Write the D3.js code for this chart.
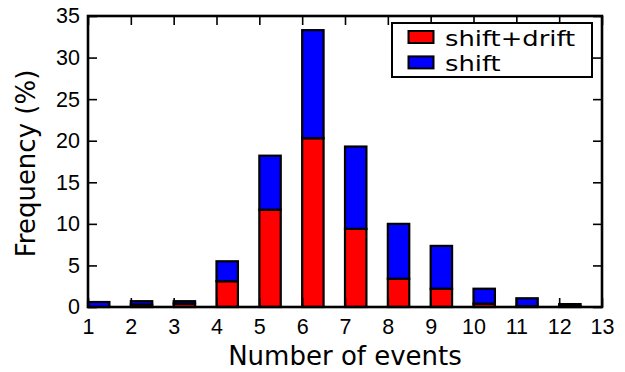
<!DOCTYPE html>
<html>
<head>
<meta charset="utf-8">
<script src="https://cdn.jsdelivr.net/npm/d3@7"></script>
<style>
    body { margin: 0; background: #fff; }
    svg { display: block; font-family: "DejaVu Sans", sans-serif; }
</style>
</head>
<body>
<svg id="chart" width="625" height="372"></svg>
<script>
// Number of events on the x axis
const events = [1, 2, 3, 4, 5, 6, 7, 8, 9, 10, 11, 12];
// Frequency (%) of each series, blue is stacked on top of red
const shiftDrift = [0, 0.3, 0.4, 3.1, 11.7, 20.3, 9.4, 3.4, 2.2, 0.4, 0.1, 0.1];
const shiftOnly = [0.6, 0.4, 0.3, 2.4, 6.5, 13.0, 9.9, 6.6, 5.15, 1.8, 0.95, 0.25];
const xTicks = d3.range(1, 14);
const yTicks = [0, 5, 10, 15, 20, 25, 30, 35];
const seriesNames = ["shift+drift", "shift"];
const seriesColors = ["#ff0000", "#0000ff"];

const margin = {top: 16, right: 23, bottom: 65, left: 88};
const width = 625, height = 372;

const svg = d3.select("#chart");

const x = d3.scaleLinear().domain([1, 13]).range([margin.left, width - margin.right]);
const y = d3.scaleLinear().domain([0, 35]).range([height - margin.bottom, margin.top]);

const rows = events.map((e, i) => ({event: e, red: shiftDrift[i], blue: shiftOnly[i]}));
const stacked = d3.stack().keys(["red", "blue"])(rows);

// Bars
svg.append("g")
    .selectAll("g")
    .data(stacked)
    .join("g")
    .attr("fill", (d, i) => seriesColors[i])
    .selectAll("rect")
    .data(d => d)
    .join("rect")
    .attr("x", d => x(d.data.event))
    .attr("width", d => x(d.data.event + 0.5) - x(d.data.event))
    .attr("y", d => y(d[1]))
    .attr("height", d => y(d[0]) - y(d[1]))
    .attr("stroke", "#000")
    .attr("stroke-width", 2.2);

// Axes, ticks pointing inward on all four sides
const tickLen = 9;
const bottomAxis = d3.axisBottom(x).tickValues(xTicks).tickSize(-tickLen).tickPadding(12);
const topAxis = d3.axisTop(x).tickValues(xTicks).tickSize(-tickLen).tickFormat("");
const leftAxis = d3.axisLeft(y).tickValues(yTicks).tickSize(-tickLen).tickPadding(8);
const rightAxis = d3.axisRight(y).tickValues(yTicks).tickSize(-tickLen).tickFormat("");

function style(g) {
    g.select(".domain").remove();
    g.selectAll(".tick line").attr("stroke", "#000").attr("stroke-width", 1.6);
    g.selectAll(".tick text").attr("fill", "#000").attr("font-size", 21.5);
}

svg.append("g").attr("transform", `translate(0,${y(0)})`).call(bottomAxis).call(style);
svg.append("g").attr("transform", `translate(0,${y(35)})`).call(topAxis).call(style);
svg.append("g").attr("transform", `translate(${x(1)},0)`).call(leftAxis).call(style);
svg.append("g").attr("transform", `translate(${x(13)},0)`).call(rightAxis).call(style);

// Frame
svg.append("rect")
    .attr("x", x(1))
    .attr("y", y(35))
    .attr("width", x(13) - x(1))
    .attr("height", y(0) - y(35))
    .attr("fill", "none")
    .attr("stroke", "#000")
    .attr("stroke-width", 2.6);

// Axis labels
svg.append("text")
    .attr("x", (x(1) + x(13)) / 2)
    .attr("y", 365)
    .attr("text-anchor", "middle")
    .attr("font-size", 26)
    .text("Number of events");

svg.append("text")
    .attr("transform", `translate(35,${(y(0) + y(35)) / 2 + 2}) rotate(-90)`)
    .attr("text-anchor", "middle")
    .attr("font-size", 26)
    .text("Frequency (%)");

// Legend
const legend = svg.append("g").attr("transform", "translate(392,23)");
legend.append("rect")
    .attr("width", 200)
    .attr("height", 54)
    .attr("fill", "#fff")
    .attr("stroke", "#000")
    .attr("stroke-width", 2);

const item = legend.selectAll("g.item")
    .data(seriesNames)
    .join("g")
    .attr("class", "item")
    .attr("transform", (d, i) => `translate(16.5,${8 + i * 25.4})`);

item.append("rect")
    .attr("width", 25)
    .attr("height", 12)
    .attr("fill", (d, i) => seriesColors[i])
    .attr("stroke", "#000")
    .attr("stroke-width", 2);

// a slightly wide font keeps the two lines from touching
item.append("text")
    .attr("transform", "translate(36.5,14.8) scale(1.2,1)")
    .attr("font-size", 21.5)
    .text(d => d);
</script>
</body>
</html>
